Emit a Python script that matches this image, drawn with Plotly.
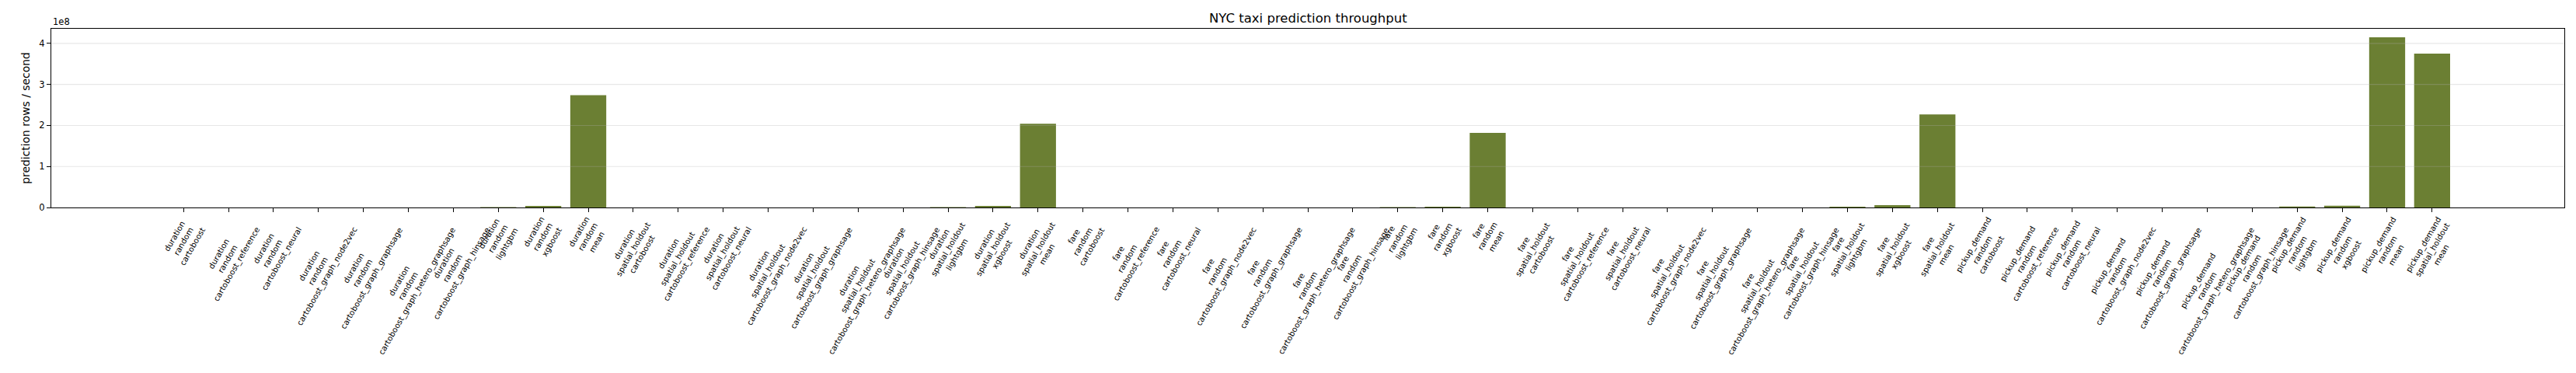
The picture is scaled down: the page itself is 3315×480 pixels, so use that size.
import plotly.graph_objects as go

targets = ["duration", "fare", "pickup_demand"]
splits = ["random", "spatial_holdout"]
models = [
    "cartoboost",
    "cartoboost_reference",
    "cartoboost_neural",
    "cartoboost_graph_node2vec",
    "cartoboost_graph_graphsage",
    "cartoboost_graph_hetero_graphsage",
    "cartoboost_graph_hinsage",
    "lightgbm",
    "xgboost",
    "mean",
]

# prediction rows / second
# (the cartoboost variants are far too small to see at this scale)
duration_random = [41000, 38000, 12000, 9000, 8500, 7000, 7500, 0.9e6, 3.8e6, 2.74e8]
duration_spatial_holdout = [39000, 36000, 11000, 8800, 8200, 6900, 7200, 0.9e6, 3.8e6, 2.04e8]
fare_random = [40000, 37000, 11500, 9100, 8400, 7100, 7400, 0.9e6, 1.9e6, 1.82e8]
fare_spatial_holdout = [39500, 36500, 11200, 8900, 8300, 7000, 7300, 1.9e6, 5.7e6, 2.27e8]
pickup_demand_random = [42000, 39000, 12500, 9300, 8700, 7200, 7700, 2.5e6, 4.4e6, 4.15e8]
pickup_demand_spatial_holdout = [3.75e8]  # only the mean baseline here

y_ticks = [0, 1e8, 2e8, 3e8, 4e8]
y_tick_text = ["0", "1", "2", "3", "4"]

groups = [
    ("duration", "random", models, duration_random),
    ("duration", "spatial_holdout", models, duration_spatial_holdout),
    ("fare", "random", models, fare_random),
    ("fare", "spatial_holdout", models, fare_spatial_holdout),
    ("pickup_demand", "random", models, pickup_demand_random),
    ("pickup_demand", "spatial_holdout", ["mean"], pickup_demand_spatial_holdout),
]

labels = []
values = []
for target, split, model_names, vals in groups:
    for model, v in zip(model_names, vals):
        labels.append(f"{target}<br>{split}<br>{model}")
        values.append(v)

FONT = "DejaVu Sans"
# a hair under full opacity so plotly rounds sub-pixel bars away
# instead of stretching them to 1px
BAR_COLOR = "rgba(107,127,51,0.999)"

fig = go.Figure()
fig.add_trace(go.Bar(
    x=labels,
    y=values,
    marker=dict(color=BAR_COLOR, line=dict(width=0)),
    hovertemplate="%{x}<br>%{y:.3s} rows/s<extra></extra>",
))

# matplotlib-style x limits: bar width 0.8 plus 5% margins
n = len(labels)
span = (n - 1) + 0.8
x_lo = -0.4 - 0.05 * span
x_hi = (n - 1) + 0.4 + 0.05 * span

# rotated, centred tick labels (matplotlib rotation=60, ha='center')
annotations = []
for lab in labels:
    annotations.append(dict(
        x=lab, xref="x", y=0, yref="paper",
        text=lab, showarrow=False, textangle=-60,
        xanchor="center", yanchor="top", align="center",
        yshift=-9, borderpad=0,
        font=dict(family=FONT, size=10.2, color="#000"),
    ))

# scientific offset text
annotations.append(dict(
    x=0, xref="paper", y=1, yref="paper",
    text="1e8", showarrow=False, xanchor="left", yanchor="bottom",
    xshift=1, yshift=1, borderpad=0,
    font=dict(family=FONT, size=11.5, color="#000"),
))

# grid drawn over the bars, like the original
shapes = []
for t in y_ticks[1:]:
    shapes.append(dict(
        type="line", xref="paper", x0=0, x1=1, yref="y", y0=t, y1=t,
        line=dict(color="rgba(176,176,176,0.3)", width=1.1), layer="above",
    ))

fig.update_layout(
    width=3315,
    height=480,
    margin=dict(l=66, r=15, t=37, b=213),
    paper_bgcolor="white",
    plot_bgcolor="white",
    showlegend=False,
    bargap=0.2,
    font=dict(family=FONT, color="#000"),
    title=dict(
        text="NYC taxi prediction throughput",
        x=0.5078, xanchor="center",
        y=1 - 23.5 / 480, yref="container", yanchor="middle",
        font=dict(family=FONT, size=16.5, color="#000"),
    ),
    annotations=annotations,
    shapes=shapes,
)

fig.update_xaxes(
    type="category",
    range=[x_lo, x_hi],
    showticklabels=False,
    ticks="outside", ticklen=5, tickwidth=1.1, tickcolor="#000",
    showline=True, linecolor="#000", linewidth=1.1, mirror=True,
    showgrid=False, zeroline=False,
)

fig.update_yaxes(
    range=[0, max(values) * 1.05],
    tickvals=y_ticks, ticktext=y_tick_text,
    ticks="outside", ticklen=5, tickwidth=1.1, tickcolor="#000",
    tickfont=dict(family=FONT, size=11.5, color="#000"),
    showline=True, linecolor="#000", linewidth=1.1, mirror=True,
    showgrid=False, zeroline=False,
    title=dict(text="prediction rows / second", standoff=8,
               font=dict(family=FONT, size=13.9, color="#000")),
)

# drop the default 8px body margin so the figure sits flush in the window
fig.write_html(
    "out.html",
    config={"displayModeBar": False},
    post_script="document.body.style.margin='0';document.body.style.overflow='hidden';",
)
